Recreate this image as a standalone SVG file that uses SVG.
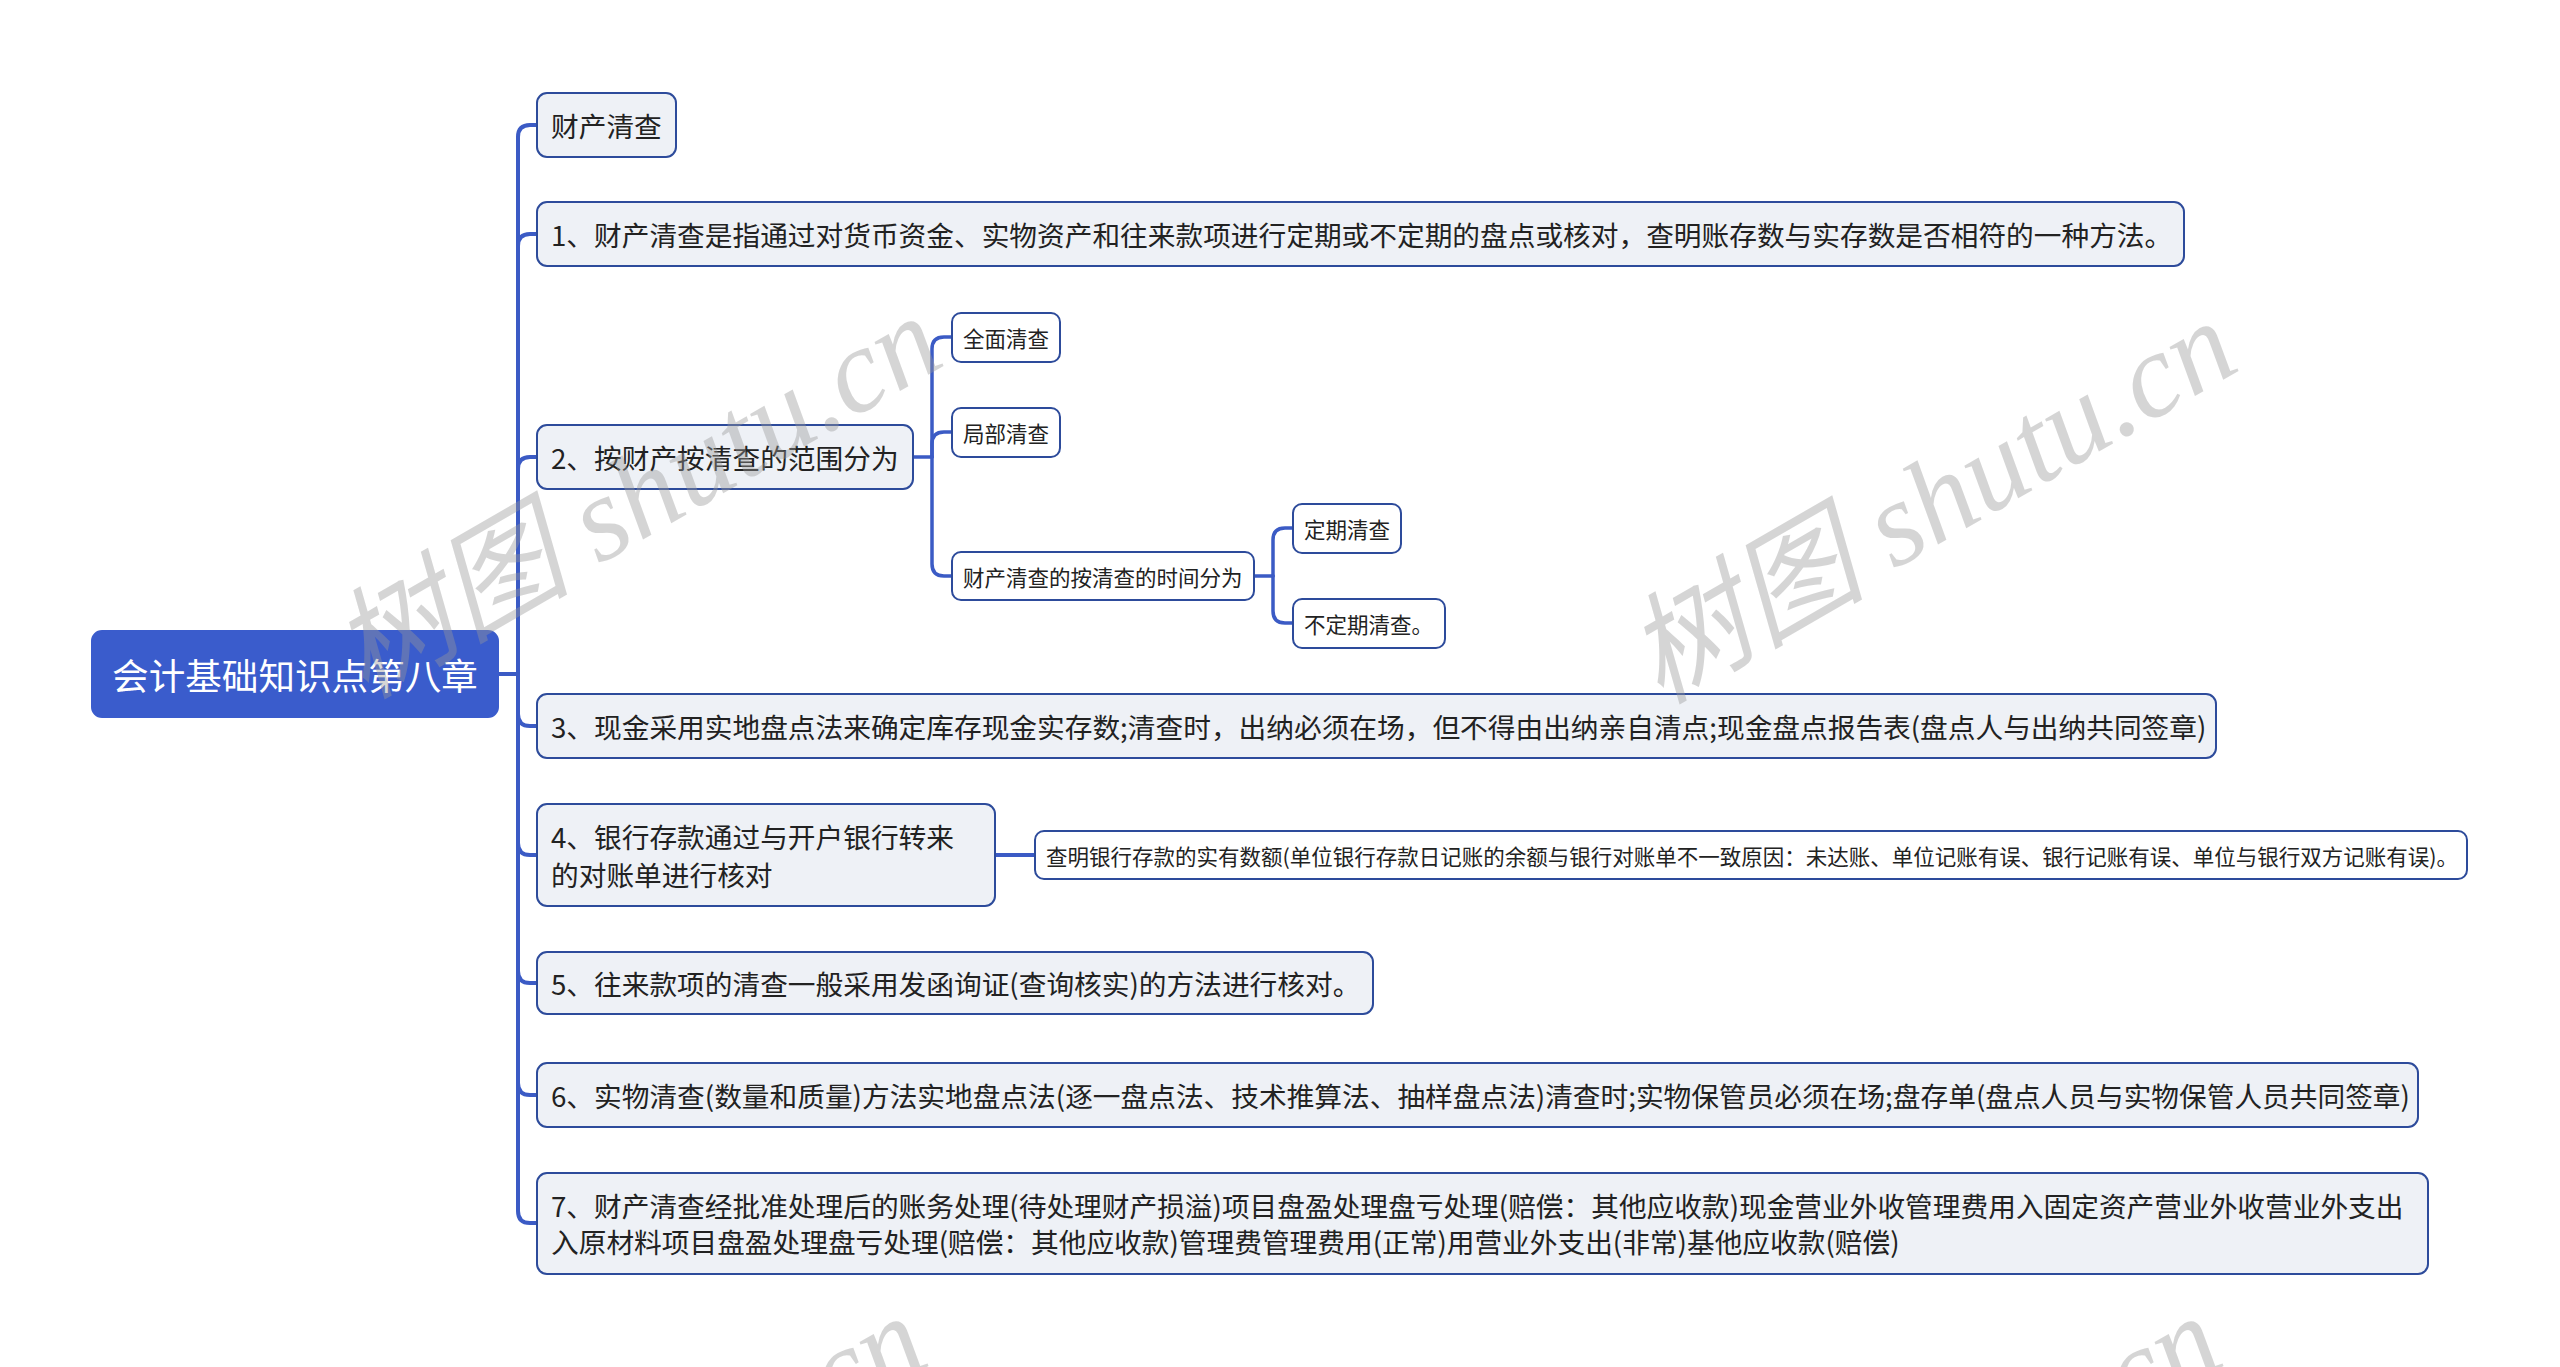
<svg xmlns="http://www.w3.org/2000/svg" width="2560" height="1367" viewBox="0 0 2560 1367">
<style>
.conn{fill:none;stroke:#3b5bc5;stroke-width:4;stroke-linecap:round}
.sconn{fill:none;stroke:#3b5bc5;stroke-width:3.5;stroke-linecap:round}
.root{fill:#3a5ccc;stroke:#3a5ccc;stroke-width:2}
.main{fill:#eef1f6;stroke:#2d4b9b;stroke-width:2}
.sub{fill:#ffffff;stroke:#2d4b9b;stroke-width:2}
text{font-family:"Noto Sans CJK SC","Noto Sans",sans-serif;dominant-baseline:central}
.rt{font-size:36.6px;fill:#ffffff}
.mt{font-size:27.7px;fill:#222222}
.st{font-size:21.5px;fill:#222222}
.wm{font-family:"Liberation Serif","Noto Sans CJK SC",serif;font-style:italic;font-size:120px;fill:#999999;opacity:0.4;dominant-baseline:auto}
</style>
<rect width="2560" height="1367" fill="#ffffff"/>
<g id="connectors">
<path class="conn" d="M498,674 H518"/>
<path class="conn" d="M518,674 V137 Q518,125 530,125 H537"/>
<path class="conn" d="M518,674 V246 Q518,234 530,234 H537"/>
<path class="conn" d="M518,674 V469 Q518,457 530,457 H537"/>
<path class="conn" d="M518,674 V714 Q518,726 530,726 H537"/>
<path class="conn" d="M518,674 V843 Q518,855 530,855 H537"/>
<path class="conn" d="M518,674 V971 Q518,983 530,983 H537"/>
<path class="conn" d="M518,674 V1083 Q518,1095 530,1095 H537"/>
<path class="conn" d="M518,674 V1211 Q518,1223 530,1223 H537"/>
<path class="sconn" d="M913,457 H932"/>
<path class="sconn" d="M932,457 V349 Q932,337 944,337 H952"/>
<path class="sconn" d="M932,457 V444 Q932,432 944,432 H952"/>
<path class="sconn" d="M932,457 V564 Q932,576 944,576 H952"/>
<path class="sconn" d="M1254,576 H1273"/>
<path class="sconn" d="M1273,576 V540 Q1273,528 1285,528 H1293"/>
<path class="sconn" d="M1273,576 V611 Q1273,623 1285,623 H1293"/>
<path class="conn" d="M995,855 H1035"/>
</g>
<g id="root">
<rect class="root" x="92" y="631" width="406" height="86" rx="10"/>
<text class="rt" x="295" y="674" text-anchor="middle">会计基础知识点第八章</text>
</g>
<g id="n0">
<rect class="main" x="537" y="93" width="139" height="64" rx="10"/>
<text class="mt" x="551" y="125">财产清查</text>
</g>
<g id="n1">
<rect class="main" x="537" y="202" width="1647" height="64" rx="10"/>
<text class="mt" x="551" y="234">1、财产清查是指通过对货币资金、实物资产和往来款项进行定期或不定期的盘点或核对，查明账存数与实存数是否相符的一种方法。</text>
</g>
<g id="n2">
<rect class="main" x="537" y="425" width="376" height="64" rx="10"/>
<text class="mt" x="551" y="457">2、按财产按清查的范围分为</text>
</g>
<g id="n2a">
<rect class="sub" x="952" y="313" width="108" height="49" rx="9"/>
<text class="st" x="963" y="337">全面清查</text>
</g>
<g id="n2b">
<rect class="sub" x="952" y="408" width="108" height="49" rx="9"/>
<text class="st" x="963" y="432">局部清查</text>
</g>
<g id="n2c">
<rect class="sub" x="952" y="552" width="302" height="48" rx="9"/>
<text class="st" x="963" y="576">财产清查的按清查的时间分为</text>
</g>
<g id="n2c1">
<rect class="sub" x="1293" y="504" width="108" height="49" rx="9"/>
<text class="st" x="1304" y="528">定期清查</text>
</g>
<g id="n2c2">
<rect class="sub" x="1293" y="599" width="152" height="49" rx="9"/>
<text class="st" x="1304" y="623">不定期清查。</text>
</g>
<g id="n3">
<rect class="main" x="537" y="694" width="1679" height="64" rx="10"/>
<text class="mt" x="551" y="726">3、现金采用实地盘点法来确定库存现金实存数;清查时，出纳必须在场，但不得由出纳亲自清点;现金盘点报告表(盘点人与出纳共同签章)</text>
</g>
<g id="n4">
<rect class="main" x="537" y="804" width="458" height="102" rx="10"/>
<text class="mt" x="551" y="836">4、银行存款通过与开户银行转来</text>
<text class="mt" x="551" y="874">的对账单进行核对</text>
</g>
<g id="n4a">
<rect class="sub" x="1035" y="831" width="1432" height="48" rx="9"/>
<text class="st" x="1046" y="855">查明银行存款的实有数额(单位银行存款日记账的余额与银行对账单不一致原因：未达账、单位记账有误、银行记账有误、单位与银行双方记账有误)。</text>
</g>
<g id="n5">
<rect class="main" x="537" y="952" width="836" height="62" rx="10"/>
<text class="mt" x="551" y="983">5、往来款项的清查一般采用发函询证(查询核实)的方法进行核对。</text>
</g>
<g id="n6">
<rect class="main" x="537" y="1063" width="1881" height="64" rx="10"/>
<text class="mt" x="551" y="1095">6、实物清查(数量和质量)方法实地盘点法(逐一盘点法、技术推算法、抽样盘点法)清查时;实物保管员必须在场;盘存单(盘点人员与实物保管人员共同签章)</text>
</g>
<g id="n7">
<rect class="main" x="537" y="1173" width="1891" height="101" rx="10"/>
<text class="mt" x="551" y="1205">7、财产清查经批准处理后的账务处理(待处理财产损溢)项目盘盈处理盘亏处理(赔偿：其他应收款)现金营业外收管理费用入固定资产营业外收营业外支出</text>
<text class="mt" x="551" y="1241">入原材料项目盘盈处理盘亏处理(赔偿：其他应收款)管理费管理费用(正常)用营业外支出(非常)基他应收款(赔偿)</text>
</g>
<g id="watermarks">
<text class="wm" transform="translate(365,700) rotate(-30)">树图 shutu.cn</text>
<text class="wm" transform="translate(1660,705) rotate(-30)">树图 shutu.cn</text>
<text class="wm" transform="translate(350,1700) rotate(-30)">树图 shutu.cn</text>
<text class="wm" transform="translate(1645,1700) rotate(-30)">树图 shutu.cn</text>
</g>
</svg>
